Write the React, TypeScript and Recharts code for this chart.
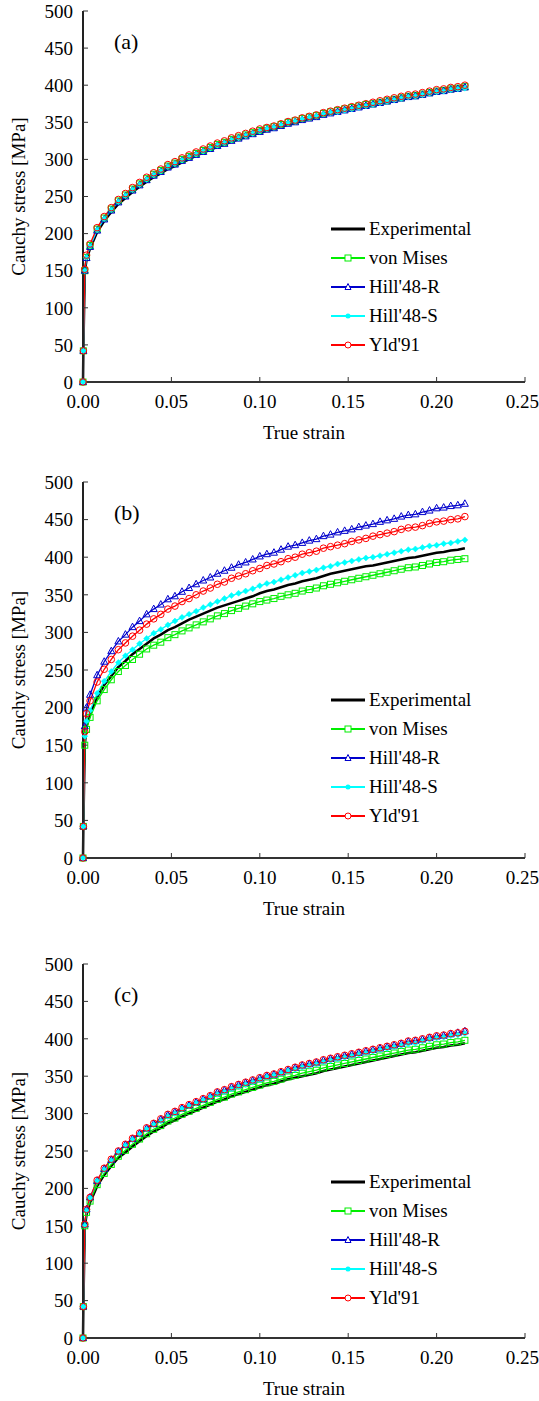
import React from 'react'
import { LineChart, Line, XAxis, YAxis } from 'recharts'

// true strain, shared by every series
const strain = [
  0, 0.0002, 0.001, 0.002,
  0.004, 0.008, 0.012, 0.016, 0.02, 0.024, 0.028, 0.032, 0.036, 0.04,
  0.044, 0.048, 0.052, 0.056, 0.06, 0.064, 0.068, 0.072, 0.076, 0.08,
  0.084, 0.088, 0.092, 0.096, 0.1, 0.104, 0.108, 0.112, 0.116, 0.12,
  0.124, 0.128, 0.132, 0.136, 0.14, 0.144, 0.148, 0.152, 0.156, 0.16,
  0.164, 0.168, 0.172, 0.176, 0.18, 0.184, 0.188, 0.192, 0.196, 0.2,
  0.204, 0.208, 0.212, 0.216,
]

const xTicks = [0, 0.05, 0.1, 0.15, 0.2, 0.25]
const yTicks = [0, 50, 100, 150, 200, 250, 300, 350, 400, 450, 500]

// panel (a)
const expA = [0, 42, 148, 165, 180, 202, 217, 229, 240, 248, 256, 263, 270, 276, 281, 287, 291, 296, 300, 305, 309, 313, 317, 320, 324, 327, 330, 333, 336, 339, 341, 344, 347, 349, 352, 355, 357, 360, 362, 364, 366, 368, 370, 372, 374, 376, 378, 380, 382, 384, 385, 387, 389, 391, 392, 394, 395, 397]
const vmA = [0, 42, 150, 168, 184, 206, 221, 233, 244, 252, 260, 267, 274, 280, 285, 291, 295, 300, 304, 308, 312, 316, 320, 323, 327, 330, 333, 336, 339, 342, 344, 347, 350, 352, 355, 357, 359, 362, 364, 366, 368, 370, 372, 374, 375, 377, 379, 381, 383, 385, 386, 388, 390, 392, 393, 395, 396, 398]
const h48rA = [0, 42, 150, 167, 182, 204, 219, 231, 242, 250, 258, 265, 272, 278, 283, 289, 293, 298, 302, 306, 310, 314, 318, 321, 325, 328, 331, 334, 337, 340, 342, 345, 348, 350, 353, 355, 357, 360, 362, 364, 366, 368, 370, 372, 374, 376, 378, 380, 382, 384, 385, 387, 389, 391, 392, 394, 395, 397]
const h48sA = [0, 42, 150, 168, 183, 205, 220, 232, 243, 251, 259, 266, 273, 279, 284, 290, 294, 299, 303, 307, 311, 315, 319, 322, 326, 329, 332, 335, 338, 341, 343, 346, 349, 351, 354, 356, 358, 361, 363, 364, 366, 368, 370, 372, 374, 376, 378, 380, 382, 384, 385, 387, 389, 391, 392, 394, 395, 396]
const yldA = [0, 42, 152, 171, 186, 208, 223, 235, 246, 254, 262, 269, 276, 282, 287, 293, 297, 302, 306, 310, 314, 318, 322, 325, 329, 332, 335, 338, 341, 343, 345, 348, 351, 353, 356, 358, 360, 363, 365, 367, 369, 371, 373, 375, 377, 379, 381, 383, 385, 387, 388, 390, 392, 394, 395, 397, 398, 400]

// panel (b)
const expB = [0, 42, 150, 175, 191, 214, 230, 242, 254, 262, 271, 278, 285, 292, 297, 303, 307, 312, 317, 321, 325, 329, 333, 336, 339, 342, 345, 348, 352, 355, 357, 360, 363, 365, 368, 370, 372, 375, 378, 380, 382, 384, 386, 388, 389, 391, 393, 395, 397, 399, 400, 402, 404, 406, 407, 409, 410, 412]
const vmB = [0, 42, 150, 171, 187, 209, 224, 237, 248, 256, 264, 271, 278, 283, 287, 293, 297, 302, 306, 310, 314, 318, 322, 325, 329, 332, 335, 338, 341, 343, 345, 348, 350, 352, 355, 357, 359, 362, 364, 366, 368, 370, 372, 374, 376, 378, 380, 382, 384, 386, 387, 389, 391, 393, 394, 396, 397, 398]
const h48rB = [0, 42, 175, 200, 217, 243, 261, 275, 288, 297, 307, 315, 324, 331, 337, 344, 348, 354, 359, 364, 369, 373, 378, 382, 386, 390, 393, 397, 401, 404, 406, 410, 414, 416, 419, 422, 424, 428, 430, 433, 435, 437, 440, 442, 444, 447, 449, 451, 454, 456, 457, 460, 462, 465, 466, 468, 469, 471]
const h48sB = [0, 42, 162, 182, 196, 219, 235, 248, 260, 269, 277, 285, 292, 299, 304, 310, 315, 320, 324, 328, 333, 337, 341, 345, 349, 352, 355, 358, 362, 365, 367, 370, 373, 376, 379, 381, 383, 386, 388, 391, 393, 395, 397, 399, 400, 402, 404, 406, 408, 410, 411, 413, 415, 416, 418, 419, 421, 423]
const yldB = [0, 42, 168, 192, 209, 234, 251, 264, 277, 286, 295, 303, 311, 318, 324, 331, 335, 341, 345, 350, 355, 359, 364, 367, 372, 375, 378, 382, 385, 389, 391, 394, 398, 400, 404, 406, 408, 412, 414, 416, 418, 421, 423, 425, 428, 430, 432, 434, 437, 439, 440, 442, 445, 447, 448, 450, 451, 454]

// panel (c)
const expC = [0, 42, 148, 165, 181, 203, 218, 230, 241, 248, 256, 263, 270, 276, 281, 287, 291, 296, 300, 304, 308, 312, 316, 319, 323, 326, 329, 332, 335, 338, 340, 343, 346, 348, 350, 352, 354, 357, 359, 361, 363, 365, 367, 369, 371, 373, 375, 377, 379, 381, 382, 384, 386, 388, 389, 391, 392, 394]
const vmC = [0, 42, 150, 168, 183, 205, 220, 232, 243, 251, 259, 266, 273, 279, 284, 290, 294, 299, 303, 307, 311, 315, 319, 322, 326, 329, 332, 335, 338, 341, 343, 346, 349, 351, 354, 356, 358, 361, 363, 365, 367, 369, 371, 373, 375, 377, 379, 381, 383, 385, 386, 388, 390, 392, 393, 395, 396, 398]
const h48rC = [0, 42, 152, 172, 188, 210, 226, 238, 249, 258, 266, 273, 280, 286, 292, 298, 302, 307, 311, 315, 319, 323, 328, 331, 335, 338, 341, 344, 347, 350, 352, 355, 358, 361, 364, 366, 368, 371, 373, 375, 377, 379, 381, 383, 385, 387, 389, 391, 393, 396, 397, 399, 401, 403, 404, 406, 408, 410]
const h48sC = [0, 42, 150, 170, 187, 210, 225, 237, 248, 257, 265, 272, 279, 285, 290, 296, 300, 306, 310, 314, 318, 322, 326, 329, 333, 336, 339, 342, 345, 349, 351, 354, 357, 359, 362, 364, 366, 369, 371, 373, 375, 377, 379, 381, 383, 385, 387, 389, 391, 393, 394, 397, 399, 401, 402, 404, 405, 407]
const yldC = [0, 42, 152, 172, 188, 211, 227, 239, 250, 259, 267, 274, 281, 287, 293, 299, 303, 308, 312, 316, 320, 324, 329, 332, 336, 339, 342, 345, 348, 351, 353, 356, 359, 362, 365, 367, 369, 372, 374, 376, 378, 380, 382, 384, 386, 388, 390, 392, 394, 397, 398, 400, 402, 404, 405, 407, 408, 410]

const FONT = '"Liberation Serif", "Times New Roman", serif'
const GREEN = '#00ee00'
const BLUE = '#0000cc'
const CYAN = '#00ffff'
const RED = '#ff0000'

const squareDot = (p: any) =>
  p.cx == null ? null : (
    <rect key={'s' + p.index} x={p.cx - 3} y={p.cy - 3} width={6} height={6} fill="none" stroke={GREEN} strokeWidth={1} />
  )
const triDot = (p: any) =>
  p.cx == null ? null : (
    <polygon key={'t' + p.index} points={`${p.cx},${p.cy - 4} ${p.cx - 3.5},${p.cy + 2.5} ${p.cx + 3.5},${p.cy + 2.5}`} fill="none" stroke={BLUE} strokeWidth={1} />
  )
const diaDot = (p: any) =>
  p.cx == null ? null : (
    <polygon key={'d' + p.index} points={`${p.cx},${p.cy - 3} ${p.cx + 3},${p.cy} ${p.cx},${p.cy + 3} ${p.cx - 3},${p.cy}`} fill={CYAN} stroke={CYAN} strokeWidth={0.5} />
  )
const circDot = (p: any) =>
  p.cx == null ? null : (
    <circle key={'c' + p.index} cx={p.cx} cy={p.cy} r={3.3} fill="none" stroke={RED} strokeWidth={1} />
  )

const legendItems = [
  { name: 'Experimental', color: '#000', width: 3, marker: null as any },
  { name: 'von Mises', color: GREEN, width: 2, marker: 'square' },
  { name: "Hill'48-R", color: BLUE, width: 2, marker: 'tri' },
  { name: "Hill'48-S", color: CYAN, width: 2, marker: 'dia' },
  { name: "Yld'91", color: RED, width: 2, marker: 'circ' },
]

const LegendIcon = ({ item }: any) => {
  const cx = 17
  const cy = 7
  return (
    <svg width={34} height={14} style={{ display: 'block' }}>
      <line x1={0} y1={cy} x2={34} y2={cy} stroke={item.color} strokeWidth={item.width} />
      {item.marker === 'square' && <rect x={cx - 3} y={cy - 3} width={6} height={6} fill="#fff" stroke={GREEN} strokeWidth={1} />}
      {item.marker === 'tri' && <polygon points={`${cx},${cy - 3.5} ${cx - 3},${cy + 2.5} ${cx + 3},${cy + 2.5}`} fill="#fff" stroke={BLUE} strokeWidth={1} />}
      {item.marker === 'dia' && <circle cx={cx} cy={cy} r={2.5} fill={CYAN} />}
      {item.marker === 'circ' && <circle cx={cx} cy={cy} r={3} fill="#fff" stroke={RED} strokeWidth={1} />}
    </svg>
  )
}

type PanelProps = {
  tag: string
  top: number
  plotH: number
  exp: number[]
  vm: number[]
  h48r: number[]
  h48s: number[]
  yld: number[]
}

const PLOT_TOP = 11
const AXIS_H = 60

const Panel = ({ tag, top, plotH, exp, vm, h48r, h48s, yld }: PanelProps) => {
  const rows = strain.map((s, i) => ({ strain: s, exp: exp[i], vm: vm[i], h48r: h48r[i], h48s: h48s[i], yld: yld[i] }))
  const tickStyle = { fill: '#000', fontSize: 19, fontFamily: FONT }
  return (
    <div style={{ position: 'absolute', left: 0, top, width: 539, height: PLOT_TOP + plotH + AXIS_H }}>
      <LineChart width={539} height={PLOT_TOP + plotH + AXIS_H} data={rows} margin={{ top: PLOT_TOP, right: 14, bottom: 0, left: 0 }}>
        <XAxis
          type="number"
          dataKey="strain"
          domain={[0, 0.25]}
          ticks={xTicks}
          tickFormatter={(v: number) => v.toFixed(2)}
          tick={tickStyle}
          tickSize={-5}
          tickMargin={18}
          height={AXIS_H}
          stroke="#333"
          axisLine={{ stroke: '#333', strokeWidth: 2 }}
          tickLine={{ stroke: '#333' }}
          label={{ value: 'True strain', position: 'insideBottom', offset: 3, style: { fill: '#000', fontSize: 19, fontFamily: FONT } }}
        />
        <XAxis xAxisId="top" orientation="top" type="number" domain={[0, 0.25]} height={0} tick={false} tickLine={false} axisLine={{ stroke: '#222', strokeWidth: 2 }} />
        <YAxis
          type="number"
          domain={[0, 500]}
          ticks={yTicks}
          tick={tickStyle}
          tickSize={-5}
          tickMargin={15}
          width={83}
          axisLine={{ stroke: '#222', strokeWidth: 2 }}
          tickLine={{ stroke: '#333' }}
          label={{ value: 'Cauchy stress [MPa]', angle: -90, position: 'insideLeft', offset: 18, style: { textAnchor: 'middle', fill: '#000', fontSize: 19, fontFamily: FONT } }}
        />
        <YAxis yAxisId="right" orientation="right" domain={[0, 500]} width={0} tick={false} tickLine={false} axisLine={{ stroke: '#333', strokeWidth: 1.5 }} />
        <Line dataKey="exp" stroke="#000" strokeWidth={2.5} dot={false} isAnimationActive={false} />
        <Line dataKey="vm" stroke={GREEN} strokeWidth={1.3} dot={squareDot} isAnimationActive={false} />
        <Line dataKey="h48r" stroke={BLUE} strokeWidth={1.3} dot={triDot} isAnimationActive={false} />
        <Line dataKey="h48s" stroke={CYAN} strokeWidth={1.3} dot={diaDot} isAnimationActive={false} />
        <Line dataKey="yld" stroke={RED} strokeWidth={1.3} dot={circDot} isAnimationActive={false} />
      </LineChart>
      <div style={{ position: 'absolute', left: 114, top: PLOT_TOP + 20, fontFamily: FONT, fontSize: 22, lineHeight: 1, color: '#000' }}>{tag}</div>
      <div style={{ position: 'absolute', left: 331, top: PLOT_TOP + 203, fontFamily: FONT, fontSize: 19, color: '#000' }}>
        {legendItems.map((item) => (
          <div key={item.name} style={{ display: 'flex', alignItems: 'center', height: 29 }}>
            <LegendIcon item={item} />
            <span style={{ marginLeft: 4, lineHeight: 1 }}>{item.name}</span>
          </div>
        ))}
      </div>
    </div>
  )
}

export default function App() {
  return (
    <div style={{ position: 'absolute', left: 0, top: 0, width: 539, height: 1401, background: '#fff' }}>
      <Panel tag="(a)" top={0} plotH={371} exp={expA} vm={vmA} h48r={h48rA} h48s={h48sA} yld={yldA} />
      <Panel tag="(b)" top={471} plotH={376} exp={expB} vm={vmB} h48r={h48rB} h48s={h48sB} yld={yldB} />
      <Panel tag="(c)" top={953} plotH={374} exp={expC} vm={vmC} h48r={h48rC} h48s={h48sC} yld={yldC} />
    </div>
  )
}
